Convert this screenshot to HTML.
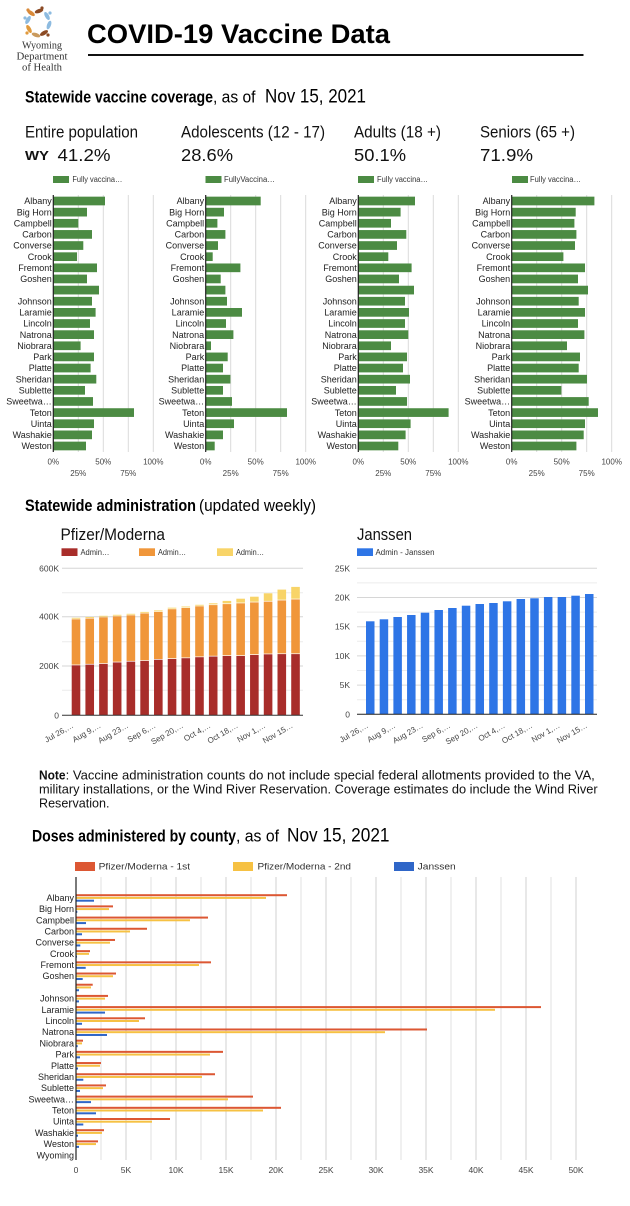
<!DOCTYPE html>
<html>
<head>
<meta charset="utf-8">
<style>
html,body{margin:0;padding:0;background:#fff;}
svg{display:block;}
</style>
</head>
<body>
<svg width="630" height="1206" viewBox="0 0 630 1206" xmlns="http://www.w3.org/2000/svg" font-family="'Liberation Sans', Arial, sans-serif">
<rect width="630" height="1206" fill="#fff"/>

<!-- Logo -->
<g>
  <ellipse cx="31" cy="13" rx="4.5" ry="2" fill="#d98a3a" transform="rotate(35 31 13)"/>
  <circle cx="28" cy="10" r="1.6" fill="#d98a3a"/>
  <ellipse cx="39" cy="11" rx="4.5" ry="2" fill="#8b4a24" transform="rotate(-20 39 11)"/>
  <circle cx="42" cy="8" r="1.6" fill="#8b4a24"/>
  <ellipse cx="47" cy="16" rx="4.5" ry="2" fill="#8dbbe0" transform="rotate(60 47 16)"/>
  <circle cx="50" cy="13" r="1.6" fill="#8dbbe0"/>
  <ellipse cx="49" cy="25" rx="4.5" ry="2" fill="#8dbbe0" transform="rotate(-70 49 25)"/>
  <ellipse cx="44" cy="33" rx="4.5" ry="2" fill="#8b4a24" transform="rotate(-30 44 33)"/>
  <circle cx="48" cy="35" r="1.6" fill="#8b4a24"/>
  <ellipse cx="36" cy="35" rx="4.5" ry="2" fill="#c99a5e" transform="rotate(20 36 35)"/>
  <ellipse cx="29" cy="29" rx="4.5" ry="2" fill="#e09a3d" transform="rotate(60 29 29)"/>
  <circle cx="27" cy="33" r="1.6" fill="#e09a3d"/>
  <ellipse cx="28" cy="20" rx="4.5" ry="2" fill="#8dbbe0" transform="rotate(-60 28 20)"/>
  <circle cx="25" cy="18" r="1.6" fill="#8dbbe0"/>
</g>
<g font-family="'Liberation Serif', serif" font-size="10" fill="#333" text-anchor="middle">
  <text x="42" y="48.5" textLength="40" lengthAdjust="spacingAndGlyphs">Wyoming</text>
  <text x="42" y="59.5" textLength="51" lengthAdjust="spacingAndGlyphs">Department</text>
  <text x="42" y="70.5" textLength="40" lengthAdjust="spacingAndGlyphs">of Health</text>
</g>

<!-- Title -->
<text x="87" y="43" font-size="27" font-weight="bold" fill="#000" textLength="303" lengthAdjust="spacingAndGlyphs">COVID-19 Vaccine Data</text>
<rect x="88" y="54" width="495.5" height="2" fill="#111"/>

<!-- Section 1 heading -->
<text x="25" y="102.7" font-size="17" font-weight="bold" fill="#000" textLength="188" lengthAdjust="spacingAndGlyphs">Statewide vaccine coverage</text>
<text x="213" y="102.7" font-size="17" fill="#000" textLength="42.5" lengthAdjust="spacingAndGlyphs">, as of</text>
<text x="265" y="102.7" font-size="19.5" fill="#000" textLength="101" lengthAdjust="spacingAndGlyphs">Nov 15, 2021</text>

<g font-size="16.3" fill="#111">
  <text x="25" y="137.7" textLength="113" lengthAdjust="spacingAndGlyphs">Entire population</text>
  <text x="181" y="137.7" textLength="144" lengthAdjust="spacingAndGlyphs">Adolescents (12 - 17)</text>
  <text x="354" y="137.7" textLength="87" lengthAdjust="spacingAndGlyphs">Adults (18 +)</text>
  <text x="480" y="137.7" textLength="95" lengthAdjust="spacingAndGlyphs">Seniors (65 +)</text>
</g>
<text x="25" y="160" font-size="12.5" font-weight="bold" fill="#111" textLength="24" lengthAdjust="spacingAndGlyphs">WY</text>
<g font-size="17.5" fill="#111">
  <text x="57.5" y="161" textLength="53" lengthAdjust="spacingAndGlyphs">41.2%</text>
  <text x="181" y="161" textLength="52" lengthAdjust="spacingAndGlyphs">28.6%</text>
  <text x="354" y="161" textLength="52" lengthAdjust="spacingAndGlyphs">50.1%</text>
  <text x="480" y="161" textLength="53" lengthAdjust="spacingAndGlyphs">71.9%</text>
</g>

<!-- Coverage legends -->
<g fill="#4c8b43">
  <rect x="53" y="176" width="16" height="7"/>
  <rect x="205.5" y="176" width="16" height="7"/>
  <rect x="358" y="176" width="16" height="7"/>
  <rect x="512" y="176" width="16" height="7"/>
</g>
<g font-size="8" fill="#333">
  <text x="72.4" y="182" textLength="50" lengthAdjust="spacingAndGlyphs">Fully vaccina…</text>
  <text x="224" y="182" textLength="51" lengthAdjust="spacingAndGlyphs">FullyVaccina…</text>
  <text x="377" y="182" textLength="51" lengthAdjust="spacingAndGlyphs">Fully vaccina…</text>
  <text x="530" y="182" textLength="51" lengthAdjust="spacingAndGlyphs">Fully vaccina…</text>
</g>

<!-- Chart 1 -->
<g transform="translate(53.3,0)">
  <path d="M25 195V452M50 195V452M75 195V452M100 195V452" stroke="#dadada" stroke-width="1"/>
  <g fill="#4c8b43">
    <rect x="0" y="196.65" width="51.7" height="8.7"/>
    <rect x="0" y="207.79" width="33.7" height="8.7"/>
    <rect x="0" y="218.92" width="25" height="8.7"/>
    <rect x="0" y="230.06" width="38.7" height="8.7"/>
    <rect x="0" y="241.19" width="30" height="8.7"/>
    <rect x="0" y="252.33" width="23.7" height="8.7"/>
    <rect x="0" y="263.47" width="43.7" height="8.7"/>
    <rect x="0" y="274.6" width="33.7" height="8.7"/>
    <rect x="0" y="285.74" width="45.7" height="8.7"/>
    <rect x="0" y="296.87" width="38.7" height="8.7"/>
    <rect x="0" y="308.01" width="42.3" height="8.7"/>
    <rect x="0" y="319.15" width="36.7" height="8.7"/>
    <rect x="0" y="330.28" width="40.7" height="8.7"/>
    <rect x="0" y="341.42" width="27.3" height="8.7"/>
    <rect x="0" y="352.55" width="40.7" height="8.7"/>
    <rect x="0" y="363.69" width="37.3" height="8.7"/>
    <rect x="0" y="374.83" width="43" height="8.7"/>
    <rect x="0" y="385.96" width="31.7" height="8.7"/>
    <rect x="0" y="397.1" width="39.7" height="8.7"/>
    <rect x="0" y="408.23" width="80.7" height="8.7"/>
    <rect x="0" y="419.37" width="40.7" height="8.7"/>
    <rect x="0" y="430.51" width="38.7" height="8.7"/>
    <rect x="0" y="441.64" width="32.7" height="8.7"/>
  </g>
  <path d="M0 195V452" stroke="#222" stroke-width="1.2"/>
  <g font-size="9" fill="#222" text-anchor="end">
    <text x="-1.5" y="204.2">Albany</text>
    <text x="-1.5" y="215.3">Big Horn</text>
    <text x="-1.5" y="226.5">Campbell</text>
    <text x="-1.5" y="237.6">Carbon</text>
    <text x="-1.5" y="248.7">Converse</text>
    <text x="-1.5" y="259.9">Crook</text>
    <text x="-1.5" y="271">Fremont</text>
    <text x="-1.5" y="282.2">Goshen</text>
    <text x="-1.5" y="304.4">Johnson</text>
    <text x="-1.5" y="315.6">Laramie</text>
    <text x="-1.5" y="326.7">Lincoln</text>
    <text x="-1.5" y="337.8">Natrona</text>
    <text x="-1.5" y="349">Niobrara</text>
    <text x="-1.5" y="360.1">Park</text>
    <text x="-1.5" y="371.2">Platte</text>
    <text x="-1.5" y="382.4">Sheridan</text>
    <text x="-1.5" y="393.5">Sublette</text>
    <text x="-1.5" y="404.7">Sweetwa…</text>
    <text x="-1.5" y="415.8">Teton</text>
    <text x="-1.5" y="426.9">Uinta</text>
    <text x="-1.5" y="438.1">Washakie</text>
    <text x="-1.5" y="449.2">Weston</text>
  </g>
  <g font-size="8" fill="#444" text-anchor="middle">
    <text x="0" y="464.5">0%</text>
    <text x="50" y="464.5">50%</text>
    <text x="100" y="464.5">100%</text>
    <text x="25" y="476">25%</text>
    <text x="75" y="476">75%</text>
  </g>
</g>

<!-- Chart 2 -->
<g transform="translate(205.7,0)">
  <path d="M25 195V452M50 195V452M75 195V452M100 195V452" stroke="#dadada" stroke-width="1"/>
  <g fill="#4c8b43">
    <rect x="0" y="196.65" width="55" height="8.7"/>
    <rect x="0" y="207.79" width="18.3" height="8.7"/>
    <rect x="0" y="218.92" width="11.7" height="8.7"/>
    <rect x="0" y="230.06" width="19.7" height="8.7"/>
    <rect x="0" y="241.19" width="12.3" height="8.7"/>
    <rect x="0" y="252.33" width="7" height="8.7"/>
    <rect x="0" y="263.47" width="34.7" height="8.7"/>
    <rect x="0" y="274.6" width="15" height="8.7"/>
    <rect x="0" y="285.74" width="19.7" height="8.7"/>
    <rect x="0" y="296.87" width="21.3" height="8.7"/>
    <rect x="0" y="308.01" width="36.3" height="8.7"/>
    <rect x="0" y="319.15" width="20.3" height="8.7"/>
    <rect x="0" y="330.28" width="27.7" height="8.7"/>
    <rect x="0" y="341.42" width="5.3" height="8.7"/>
    <rect x="0" y="352.55" width="22" height="8.7"/>
    <rect x="0" y="363.69" width="17.3" height="8.7"/>
    <rect x="0" y="374.83" width="24.7" height="8.7"/>
    <rect x="0" y="385.96" width="17.3" height="8.7"/>
    <rect x="0" y="397.1" width="26.3" height="8.7"/>
    <rect x="0" y="408.23" width="81.3" height="8.7"/>
    <rect x="0" y="419.37" width="28.3" height="8.7"/>
    <rect x="0" y="430.51" width="17.3" height="8.7"/>
    <rect x="0" y="441.64" width="9" height="8.7"/>
  </g>
  <path d="M0 195V452" stroke="#222" stroke-width="1.2"/>
  <g font-size="9" fill="#222" text-anchor="end">
    <text x="-1.5" y="204.2">Albany</text>
    <text x="-1.5" y="215.3">Big Horn</text>
    <text x="-1.5" y="226.5">Campbell</text>
    <text x="-1.5" y="237.6">Carbon</text>
    <text x="-1.5" y="248.7">Converse</text>
    <text x="-1.5" y="259.9">Crook</text>
    <text x="-1.5" y="271">Fremont</text>
    <text x="-1.5" y="282.2">Goshen</text>
    <text x="-1.5" y="304.4">Johnson</text>
    <text x="-1.5" y="315.6">Laramie</text>
    <text x="-1.5" y="326.7">Lincoln</text>
    <text x="-1.5" y="337.8">Natrona</text>
    <text x="-1.5" y="349">Niobrara</text>
    <text x="-1.5" y="360.1">Park</text>
    <text x="-1.5" y="371.2">Platte</text>
    <text x="-1.5" y="382.4">Sheridan</text>
    <text x="-1.5" y="393.5">Sublette</text>
    <text x="-1.5" y="404.7">Sweetwa…</text>
    <text x="-1.5" y="415.8">Teton</text>
    <text x="-1.5" y="426.9">Uinta</text>
    <text x="-1.5" y="438.1">Washakie</text>
    <text x="-1.5" y="449.2">Weston</text>
  </g>
  <g font-size="8" fill="#444" text-anchor="middle">
    <text x="0" y="464.5">0%</text>
    <text x="50" y="464.5">50%</text>
    <text x="100" y="464.5">100%</text>
    <text x="25" y="476">25%</text>
    <text x="75" y="476">75%</text>
  </g>
</g>

<!-- Chart 3 -->
<g transform="translate(358.3,0)">
  <path d="M25 195V452M50 195V452M75 195V452M100 195V452" stroke="#dadada" stroke-width="1"/>
  <g fill="#4c8b43">
    <rect x="0" y="196.65" width="56.7" height="8.7"/>
    <rect x="0" y="207.79" width="42.3" height="8.7"/>
    <rect x="0" y="218.92" width="32.7" height="8.7"/>
    <rect x="0" y="230.06" width="48" height="8.7"/>
    <rect x="0" y="241.19" width="38.7" height="8.7"/>
    <rect x="0" y="252.33" width="30" height="8.7"/>
    <rect x="0" y="263.47" width="53.3" height="8.7"/>
    <rect x="0" y="274.6" width="40.7" height="8.7"/>
    <rect x="0" y="285.74" width="55.7" height="8.7"/>
    <rect x="0" y="296.87" width="46.7" height="8.7"/>
    <rect x="0" y="308.01" width="50.7" height="8.7"/>
    <rect x="0" y="319.15" width="46.7" height="8.7"/>
    <rect x="0" y="330.28" width="50" height="8.7"/>
    <rect x="0" y="341.42" width="32.7" height="8.7"/>
    <rect x="0" y="352.55" width="48.7" height="8.7"/>
    <rect x="0" y="363.69" width="44.7" height="8.7"/>
    <rect x="0" y="374.83" width="51.7" height="8.7"/>
    <rect x="0" y="385.96" width="37.7" height="8.7"/>
    <rect x="0" y="397.1" width="48.7" height="8.7"/>
    <rect x="0" y="408.23" width="90.3" height="8.7"/>
    <rect x="0" y="419.37" width="52.3" height="8.7"/>
    <rect x="0" y="430.51" width="47.3" height="8.7"/>
    <rect x="0" y="441.64" width="40" height="8.7"/>
  </g>
  <path d="M0 195V452" stroke="#222" stroke-width="1.2"/>
  <g font-size="9" fill="#222" text-anchor="end">
    <text x="-1.5" y="204.2">Albany</text>
    <text x="-1.5" y="215.3">Big Horn</text>
    <text x="-1.5" y="226.5">Campbell</text>
    <text x="-1.5" y="237.6">Carbon</text>
    <text x="-1.5" y="248.7">Converse</text>
    <text x="-1.5" y="259.9">Crook</text>
    <text x="-1.5" y="271">Fremont</text>
    <text x="-1.5" y="282.2">Goshen</text>
    <text x="-1.5" y="304.4">Johnson</text>
    <text x="-1.5" y="315.6">Laramie</text>
    <text x="-1.5" y="326.7">Lincoln</text>
    <text x="-1.5" y="337.8">Natrona</text>
    <text x="-1.5" y="349">Niobrara</text>
    <text x="-1.5" y="360.1">Park</text>
    <text x="-1.5" y="371.2">Platte</text>
    <text x="-1.5" y="382.4">Sheridan</text>
    <text x="-1.5" y="393.5">Sublette</text>
    <text x="-1.5" y="404.7">Sweetwa…</text>
    <text x="-1.5" y="415.8">Teton</text>
    <text x="-1.5" y="426.9">Uinta</text>
    <text x="-1.5" y="438.1">Washakie</text>
    <text x="-1.5" y="449.2">Weston</text>
  </g>
  <g font-size="8" fill="#444" text-anchor="middle">
    <text x="0" y="464.5">0%</text>
    <text x="50" y="464.5">50%</text>
    <text x="100" y="464.5">100%</text>
    <text x="25" y="476">25%</text>
    <text x="75" y="476">75%</text>
  </g>
</g>

<!-- Chart 4 -->
<g transform="translate(511.7,0)">
  <path d="M25 195V452M50 195V452M75 195V452M100 195V452" stroke="#dadada" stroke-width="1"/>
  <g fill="#4c8b43">
    <rect x="0" y="196.65" width="82.7" height="8.7"/>
    <rect x="0" y="207.79" width="64" height="8.7"/>
    <rect x="0" y="218.92" width="62.7" height="8.7"/>
    <rect x="0" y="230.06" width="64.7" height="8.7"/>
    <rect x="0" y="241.19" width="63.3" height="8.7"/>
    <rect x="0" y="252.33" width="51.7" height="8.7"/>
    <rect x="0" y="263.47" width="73.3" height="8.7"/>
    <rect x="0" y="274.6" width="66.3" height="8.7"/>
    <rect x="0" y="285.74" width="76.3" height="8.7"/>
    <rect x="0" y="296.87" width="67" height="8.7"/>
    <rect x="0" y="308.01" width="73.3" height="8.7"/>
    <rect x="0" y="319.15" width="66.3" height="8.7"/>
    <rect x="0" y="330.28" width="72.7" height="8.7"/>
    <rect x="0" y="341.42" width="55.3" height="8.7"/>
    <rect x="0" y="352.55" width="68.3" height="8.7"/>
    <rect x="0" y="363.69" width="67" height="8.7"/>
    <rect x="0" y="374.83" width="75.3" height="8.7"/>
    <rect x="0" y="385.96" width="49.7" height="8.7"/>
    <rect x="0" y="397.1" width="77" height="8.7"/>
    <rect x="0" y="408.23" width="86.3" height="8.7"/>
    <rect x="0" y="419.37" width="73.3" height="8.7"/>
    <rect x="0" y="430.51" width="72" height="8.7"/>
    <rect x="0" y="441.64" width="64.7" height="8.7"/>
  </g>
  <path d="M0 195V452" stroke="#222" stroke-width="1.2"/>
  <g font-size="9" fill="#222" text-anchor="end">
    <text x="-1.5" y="204.2">Albany</text>
    <text x="-1.5" y="215.3">Big Horn</text>
    <text x="-1.5" y="226.5">Campbell</text>
    <text x="-1.5" y="237.6">Carbon</text>
    <text x="-1.5" y="248.7">Converse</text>
    <text x="-1.5" y="259.9">Crook</text>
    <text x="-1.5" y="271">Fremont</text>
    <text x="-1.5" y="282.2">Goshen</text>
    <text x="-1.5" y="304.4">Johnson</text>
    <text x="-1.5" y="315.6">Laramie</text>
    <text x="-1.5" y="326.7">Lincoln</text>
    <text x="-1.5" y="337.8">Natrona</text>
    <text x="-1.5" y="349">Niobrara</text>
    <text x="-1.5" y="360.1">Park</text>
    <text x="-1.5" y="371.2">Platte</text>
    <text x="-1.5" y="382.4">Sheridan</text>
    <text x="-1.5" y="393.5">Sublette</text>
    <text x="-1.5" y="404.7">Sweetwa…</text>
    <text x="-1.5" y="415.8">Teton</text>
    <text x="-1.5" y="426.9">Uinta</text>
    <text x="-1.5" y="438.1">Washakie</text>
    <text x="-1.5" y="449.2">Weston</text>
  </g>
  <g font-size="8" fill="#444" text-anchor="middle">
    <text x="0" y="464.5">0%</text>
    <text x="50" y="464.5">50%</text>
    <text x="100" y="464.5">100%</text>
    <text x="25" y="476">25%</text>
    <text x="75" y="476">75%</text>
  </g>
</g>

<!-- Section 2 heading -->
<text x="25" y="511" font-size="16.5" font-weight="bold" fill="#000" textLength="171" lengthAdjust="spacingAndGlyphs">Statewide administration</text>
<text x="199" y="511" font-size="16.5" fill="#000" textLength="117" lengthAdjust="spacingAndGlyphs">(updated weekly)</text>

<text x="60.5" y="540" font-size="17" fill="#111" textLength="104.5" lengthAdjust="spacingAndGlyphs">Pfizer/Moderna</text>
<text x="357" y="540" font-size="17" fill="#111" textLength="55" lengthAdjust="spacingAndGlyphs">Janssen</text>

<!-- Pfizer legend -->
<rect x="61.5" y="548.3" width="16" height="7.7" fill="#a82d2a"/>
<rect x="139" y="548.3" width="16" height="7.7" fill="#f0963a"/>
<rect x="217" y="548.3" width="16" height="7.7" fill="#f8d468"/>
<g font-size="8" fill="#333">
  <text x="80.5" y="555" textLength="29" lengthAdjust="spacingAndGlyphs">Admin…</text>
  <text x="158" y="555" textLength="28" lengthAdjust="spacingAndGlyphs">Admin…</text>
  <text x="236" y="555" textLength="28" lengthAdjust="spacingAndGlyphs">Admin…</text>
</g>
<!-- Janssen legend -->
<rect x="357" y="548.3" width="16" height="7.7" fill="#2e75e6"/>
<text x="375.5" y="555" font-size="8" fill="#333" textLength="59" lengthAdjust="spacingAndGlyphs">Admin - Janssen</text>

<!-- Pfizer chart -->
<path d="M62 592.7H303M62 641.7H303M62 690.3H303" stroke="#ececec" stroke-width="1"/>
<path d="M62 568.3H303M62 616.7H303M62 666H303" stroke="#d6d6d6" stroke-width="1"/>
<g font-size="8.5" fill="#444" text-anchor="end">
  <text x="59" y="571.3">600K</text>
  <text x="59" y="619.7">400K</text>
  <text x="59" y="669">200K</text>
  <text x="59" y="718.3">0</text>
</g>
<g fill="#a82d2a">
  <rect x="71.7" y="665.3" width="8.6" height="50"/>
  <rect x="85.42" y="664.6" width="8.6" height="50.7"/>
  <rect x="99.14" y="663.9" width="8.6" height="51.4"/>
  <rect x="112.86" y="662.4" width="8.6" height="52.9"/>
  <rect x="126.58" y="661.6" width="8.6" height="53.7"/>
  <rect x="140.3" y="660.9" width="8.6" height="54.4"/>
  <rect x="154.02" y="659.7" width="8.6" height="55.6"/>
  <rect x="167.74" y="659" width="8.6" height="56.3"/>
  <rect x="181.46" y="658.2" width="8.6" height="57.1"/>
  <rect x="195.18" y="657.2" width="8.6" height="58.1"/>
  <rect x="208.9" y="656.5" width="8.6" height="58.8"/>
  <rect x="222.62" y="656" width="8.6" height="59.3"/>
  <rect x="236.34" y="656" width="8.6" height="59.3"/>
  <rect x="250.06" y="655" width="8.6" height="60.3"/>
  <rect x="263.78" y="654.3" width="8.6" height="61"/>
  <rect x="277.5" y="654.1" width="8.6" height="61.2"/>
  <rect x="291.22" y="654.1" width="8.6" height="61.2"/>
</g>
<g fill="#f0963a">
  <rect x="71.7" y="619.3" width="8.6" height="45.3"/>
  <rect x="85.42" y="618.5" width="8.6" height="45.4"/>
  <rect x="99.14" y="617.3" width="8.6" height="45.9"/>
  <rect x="112.86" y="616.3" width="8.6" height="45.4"/>
  <rect x="126.58" y="615.3" width="8.6" height="45.6"/>
  <rect x="140.3" y="613.4" width="8.6" height="46.8"/>
  <rect x="154.02" y="611.9" width="8.6" height="47.1"/>
  <rect x="167.74" y="609.2" width="8.6" height="49.1"/>
  <rect x="181.46" y="608" width="8.6" height="49.5"/>
  <rect x="195.18" y="606.3" width="8.6" height="50.2"/>
  <rect x="208.9" y="605.1" width="8.6" height="50.7"/>
  <rect x="222.62" y="604.1" width="8.6" height="51.2"/>
  <rect x="236.34" y="603.3" width="8.6" height="52"/>
  <rect x="250.06" y="602.4" width="8.6" height="51.9"/>
  <rect x="263.78" y="601.6" width="8.6" height="52"/>
  <rect x="277.5" y="600.4" width="8.6" height="53"/>
  <rect x="291.22" y="599.4" width="8.6" height="54"/>
</g>
<g fill="#f8d468">
  <rect x="71.7" y="617.8" width="8.6" height="0.9"/>
  <rect x="85.42" y="617" width="8.6" height="0.9"/>
  <rect x="99.14" y="615.8" width="8.6" height="0.9"/>
  <rect x="112.86" y="614.8" width="8.6" height="0.9"/>
  <rect x="126.58" y="613.8" width="8.6" height="0.9"/>
  <rect x="140.3" y="611.9" width="8.6" height="0.9"/>
  <rect x="154.02" y="610.4" width="8.6" height="0.9"/>
  <rect x="167.74" y="607.7" width="8.6" height="0.9"/>
  <rect x="181.46" y="606.5" width="8.6" height="0.9"/>
  <rect x="195.18" y="604.8" width="8.6" height="0.9"/>
  <rect x="208.9" y="603.3" width="8.6" height="1.1"/>
  <rect x="222.62" y="600.9" width="8.6" height="2.5"/>
  <rect x="236.34" y="598.7" width="8.6" height="3.9"/>
  <rect x="250.06" y="596.7" width="8.6" height="5"/>
  <rect x="263.78" y="593.3" width="8.6" height="7.6"/>
  <rect x="277.5" y="589.6" width="8.6" height="10.1"/>
  <rect x="291.22" y="586.9" width="8.6" height="11.8"/>
</g>
<path d="M62 715.3H303" stroke="#333" stroke-width="1"/>
<g font-size="8" fill="#444" text-anchor="end">
  <text transform="translate(74 727) rotate(-30)">Jul 26,…</text>
  <text transform="translate(101.4 727) rotate(-30)">Aug 9,…</text>
  <text transform="translate(128.9 727) rotate(-30)">Aug 23…</text>
  <text transform="translate(156.3 727) rotate(-30)">Sep 6,…</text>
  <text transform="translate(183.8 727) rotate(-30)">Sep 20,…</text>
  <text transform="translate(211.2 727) rotate(-30)">Oct 4,…</text>
  <text transform="translate(238.6 727) rotate(-30)">Oct 18,…</text>
  <text transform="translate(266.1 727) rotate(-30)">Nov 1,…</text>
  <text transform="translate(293.5 727) rotate(-30)">Nov 15…</text>
</g>

<!-- Janssen chart -->
<path d="M357 582.9H597M357 612.1H597M357 641.3H597M357 670.5H597M357 699.7H597" stroke="#ececec" stroke-width="1"/>
<path d="M357 568.3H597M357 597.5H597M357 626.7H597M357 655.9H597M357 685.1H597" stroke="#d6d6d6" stroke-width="1"/>
<g font-size="8.5" fill="#444" text-anchor="end">
  <text x="350" y="571.3">25K</text>
  <text x="350" y="600.5">20K</text>
  <text x="350" y="629.7">15K</text>
  <text x="350" y="658.9">10K</text>
  <text x="350" y="688.1">5K</text>
  <text x="350" y="717.3">0</text>
</g>
<g fill="#2e75e6">
  <rect x="366" y="621.3" width="8.5" height="93"/>
  <rect x="379.69" y="619.3" width="8.5" height="95"/>
  <rect x="393.38" y="617" width="8.5" height="97.3"/>
  <rect x="407.06" y="615" width="8.5" height="99.3"/>
  <rect x="420.75" y="612.7" width="8.5" height="101.6"/>
  <rect x="434.44" y="610" width="8.5" height="104.3"/>
  <rect x="448.13" y="608" width="8.5" height="106.3"/>
  <rect x="461.81" y="605.7" width="8.5" height="108.6"/>
  <rect x="475.5" y="604" width="8.5" height="110.3"/>
  <rect x="489.19" y="603" width="8.5" height="111.3"/>
  <rect x="502.88" y="601.3" width="8.5" height="113"/>
  <rect x="516.56" y="599" width="8.5" height="115.3"/>
  <rect x="530.25" y="598.3" width="8.5" height="116"/>
  <rect x="543.94" y="597" width="8.5" height="117.3"/>
  <rect x="557.63" y="597" width="8.5" height="117.3"/>
  <rect x="571.31" y="595.7" width="8.5" height="118.6"/>
  <rect x="585" y="594" width="8.5" height="120.3"/>
</g>
<path d="M357 714.3H597" stroke="#222" stroke-width="1"/>
<g font-size="8" fill="#444" text-anchor="end">
  <text transform="translate(368.8 727) rotate(-30)">Jul 26,…</text>
  <text transform="translate(396.1 727) rotate(-30)">Aug 9,…</text>
  <text transform="translate(423.5 727) rotate(-30)">Aug 23…</text>
  <text transform="translate(450.9 727) rotate(-30)">Sep 6,…</text>
  <text transform="translate(478.3 727) rotate(-30)">Sep 20,…</text>
  <text transform="translate(505.6 727) rotate(-30)">Oct 4,…</text>
  <text transform="translate(533 727) rotate(-30)">Oct 18,…</text>
  <text transform="translate(560.4 727) rotate(-30)">Nov 1,…</text>
  <text transform="translate(587.8 727) rotate(-30)">Nov 15…</text>
</g>

<!-- Note -->
<g font-size="12.5" fill="#111">
  <text x="39" y="779.3" font-weight="bold" textLength="26.5" lengthAdjust="spacingAndGlyphs">Note</text>
  <text x="65.6" y="779.3" textLength="529.2" lengthAdjust="spacingAndGlyphs">: Vaccine administration counts do not include special federal allotments provided to the VA,</text>
  <text x="39" y="793.5" textLength="558.6" lengthAdjust="spacingAndGlyphs">military installations, or the Wind River Reservation. Coverage estimates do include the Wind River</text>
  <text x="39" y="807.5" textLength="70.5" lengthAdjust="spacingAndGlyphs">Reservation.</text>
</g>

<!-- Section 3 heading -->
<text x="32" y="841.7" font-size="17" font-weight="bold" fill="#000" textLength="204" lengthAdjust="spacingAndGlyphs">Doses administered by county</text>
<text x="236" y="841.7" font-size="17" fill="#000" textLength="43" lengthAdjust="spacingAndGlyphs">, as of</text>
<text x="287" y="841.7" font-size="19.5" fill="#000" textLength="102.5" lengthAdjust="spacingAndGlyphs">Nov 15, 2021</text>

<!-- Doses legend -->
<rect x="75" y="862" width="20" height="9" fill="#dc5733"/>
<rect x="233" y="862" width="20" height="9" fill="#f6c143"/>
<rect x="394" y="862" width="20" height="9" fill="#2f66c8"/>
<g font-size="9" fill="#333">
  <text x="98.6" y="869.5" textLength="91.5" lengthAdjust="spacingAndGlyphs">Pfizer/Moderna - 1st</text>
  <text x="257.5" y="869.5" textLength="93.5" lengthAdjust="spacingAndGlyphs">Pfizer/Moderna - 2nd</text>
  <text x="417.7" y="869.5" textLength="38" lengthAdjust="spacingAndGlyphs">Janssen</text>
</g>

<!-- Doses chart gridlines -->
<path d="M101 877V1160M151 877V1160M201 877V1160M251 877V1160M301 877V1160M351 877V1160M401 877V1160M451 877V1160M501 877V1160M551 877V1160" stroke="#e2e2e2" stroke-width="1"/>
<path d="M126 877V1160M176 877V1160M226 877V1160M276 877V1160M326 877V1160M376 877V1160M426 877V1160M476 877V1160M526 877V1160M576 877V1160" stroke="#d0d0d0" stroke-width="1"/>

<!-- Doses bars -->
<g fill="#dc5733">
  <rect x="76" y="894.2" width="211" height="2"/>
  <rect x="76" y="905.39" width="37" height="2"/>
  <rect x="76" y="916.58" width="132" height="2"/>
  <rect x="76" y="927.77" width="71" height="2"/>
  <rect x="76" y="938.96" width="39" height="2"/>
  <rect x="76" y="950.15" width="14" height="2"/>
  <rect x="76" y="961.34" width="135" height="2"/>
  <rect x="76" y="972.53" width="40" height="2"/>
  <rect x="76" y="983.72" width="16.7" height="2"/>
  <rect x="76" y="994.91" width="32" height="2"/>
  <rect x="76" y="1006.1" width="465" height="2"/>
  <rect x="76" y="1017.29" width="69" height="2"/>
  <rect x="76" y="1028.48" width="351" height="2"/>
  <rect x="76" y="1039.67" width="7" height="2"/>
  <rect x="76" y="1050.86" width="147" height="2"/>
  <rect x="76" y="1062.05" width="25" height="2"/>
  <rect x="76" y="1073.24" width="139" height="2"/>
  <rect x="76" y="1084.43" width="30" height="2"/>
  <rect x="76" y="1095.62" width="177" height="2"/>
  <rect x="76" y="1106.81" width="205" height="2"/>
  <rect x="76" y="1118" width="94" height="2"/>
  <rect x="76" y="1129.19" width="28" height="2"/>
  <rect x="76" y="1140.38" width="22" height="2"/>
</g>
<g fill="#f6c143">
  <rect x="76" y="896.9" width="190" height="2"/>
  <rect x="76" y="908.09" width="33" height="2"/>
  <rect x="76" y="919.28" width="114" height="2"/>
  <rect x="76" y="930.47" width="54" height="2"/>
  <rect x="76" y="941.66" width="34" height="2"/>
  <rect x="76" y="952.85" width="13" height="2"/>
  <rect x="76" y="964.04" width="123" height="2"/>
  <rect x="76" y="975.23" width="37" height="2"/>
  <rect x="76" y="986.42" width="15" height="2"/>
  <rect x="76" y="997.61" width="29" height="2"/>
  <rect x="76" y="1008.8" width="419" height="2"/>
  <rect x="76" y="1019.99" width="63" height="2"/>
  <rect x="76" y="1031.18" width="309" height="2"/>
  <rect x="76" y="1042.37" width="6" height="2"/>
  <rect x="76" y="1053.56" width="134" height="2"/>
  <rect x="76" y="1064.75" width="24" height="2"/>
  <rect x="76" y="1075.94" width="126" height="2"/>
  <rect x="76" y="1087.13" width="27" height="2"/>
  <rect x="76" y="1098.32" width="152" height="2"/>
  <rect x="76" y="1109.51" width="187" height="2"/>
  <rect x="76" y="1120.7" width="76" height="2"/>
  <rect x="76" y="1131.89" width="26" height="2"/>
  <rect x="76" y="1143.08" width="20" height="2"/>
</g>
<g fill="#2f66c8">
  <rect x="76" y="899.7" width="18" height="2"/>
  <rect x="76" y="910.89" width="1.3" height="2"/>
  <rect x="76" y="922.08" width="10" height="2"/>
  <rect x="76" y="933.27" width="6" height="2"/>
  <rect x="76" y="944.46" width="4.3" height="2"/>
  <rect x="76" y="955.65" width="1" height="2"/>
  <rect x="76" y="966.84" width="9.7" height="2"/>
  <rect x="76" y="978.03" width="6.7" height="2"/>
  <rect x="76" y="989.22" width="3" height="2"/>
  <rect x="76" y="1000.41" width="3" height="2"/>
  <rect x="76" y="1011.6" width="29" height="2"/>
  <rect x="76" y="1022.79" width="6" height="2"/>
  <rect x="76" y="1033.98" width="31" height="2"/>
  <rect x="76" y="1045.17" width="1.7" height="2"/>
  <rect x="76" y="1056.36" width="4" height="2"/>
  <rect x="76" y="1067.55" width="2" height="2"/>
  <rect x="76" y="1078.74" width="7.3" height="2"/>
  <rect x="76" y="1089.93" width="4" height="2"/>
  <rect x="76" y="1101.12" width="15" height="2"/>
  <rect x="76" y="1112.31" width="20" height="2"/>
  <rect x="76" y="1123.5" width="7.3" height="2"/>
  <rect x="76" y="1134.69" width="2" height="2"/>
  <rect x="76" y="1145.88" width="3" height="2"/>
</g>
<path d="M76 877V1160" stroke="#222" stroke-width="1.2"/>

<g font-size="9" fill="#222" text-anchor="end">
  <text x="74" y="900.9">Albany</text>
  <text x="74" y="912.1">Big Horn</text>
  <text x="74" y="923.3">Campbell</text>
  <text x="74" y="934.5">Carbon</text>
  <text x="74" y="945.7">Converse</text>
  <text x="74" y="956.9">Crook</text>
  <text x="74" y="968">Fremont</text>
  <text x="74" y="979.2">Goshen</text>
  <text x="74" y="1001.6">Johnson</text>
  <text x="74" y="1012.8">Laramie</text>
  <text x="74" y="1024">Lincoln</text>
  <text x="74" y="1035.2">Natrona</text>
  <text x="74" y="1046.4">Niobrara</text>
  <text x="74" y="1057.6">Park</text>
  <text x="74" y="1068.8">Platte</text>
  <text x="74" y="1079.9">Sheridan</text>
  <text x="74" y="1091.1">Sublette</text>
  <text x="74" y="1102.3">Sweetwa…</text>
  <text x="74" y="1113.5">Teton</text>
  <text x="74" y="1124.7">Uinta</text>
  <text x="74" y="1135.9">Washakie</text>
  <text x="74" y="1147.1">Weston</text>
  <text x="74" y="1158.3">Wyoming</text>
</g>
<g font-size="8.5" fill="#444" text-anchor="middle">
  <text x="76" y="1173">0</text>
  <text x="126" y="1173">5K</text>
  <text x="176" y="1173">10K</text>
  <text x="226" y="1173">15K</text>
  <text x="276" y="1173">20K</text>
  <text x="326" y="1173">25K</text>
  <text x="376" y="1173">30K</text>
  <text x="426" y="1173">35K</text>
  <text x="476" y="1173">40K</text>
  <text x="526" y="1173">45K</text>
  <text x="576" y="1173">50K</text>
</g>
</svg>
</body>
</html>
